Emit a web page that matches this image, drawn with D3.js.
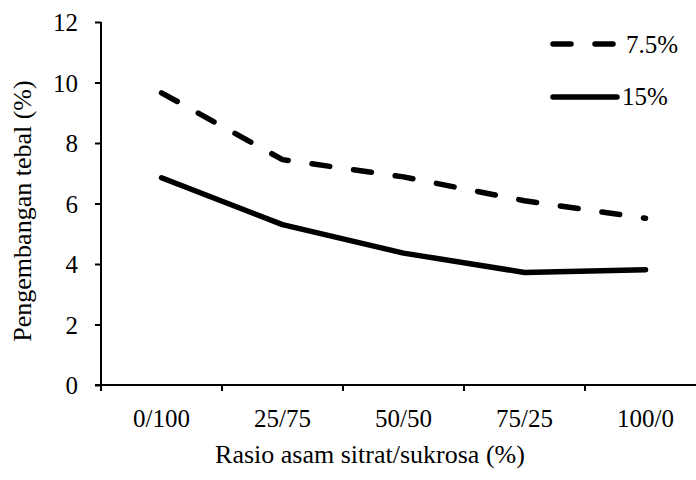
<!DOCTYPE html>
<html>
<head>
<meta charset="utf-8">
<script src="https://cdn.jsdelivr.net/npm/d3@7"></script>
<style>
  body { margin: 0; background: #fff; }
  svg text { font-family: "Liberation Serif", "Times New Roman", serif; fill: #000; }
</style>
</head>
<body>
<svg id="chart" width="696" height="480"></svg>
<script>
// data
var categories = ["0/100", "25/75", "50/50", "75/25", "100/0"];
var series75 = [9.66, 7.45, 6.88, 6.09, 5.51];
var series15 = [6.85, 5.30, 4.36, 3.72, 3.81];
var seriesNames = ["7.5%", "15%"];
var yTicks = [0, 2, 4, 6, 8, 10, 12];

var serif = '"Liberation Serif", "Times New Roman", serif';

var svg = d3.select("#chart");

var plotLeft = 101, plotRight = 706, plotTop = 22, plotBottom = 385;

var x = d3.scaleBand()
    .domain(categories)
    .range([plotLeft, plotRight])
    .padding(0);

var y = d3.scaleLinear()
    .domain([0, 12])
    .range([plotBottom, plotTop]);

// y axis
var yAxis = d3.axisLeft(y)
    .tickValues(yTicks)
    .tickSize(6)
    .tickFormat(d3.format("d"));

var gy = svg.append("g")
    .attr("transform", "translate(" + plotLeft + ",0)")
    .call(yAxis)
    .attr("font-family", serif)
    .attr("font-size", 25);
gy.select(".domain").attr("stroke", "#000").attr("stroke-width", 2)
    .attr("d", "M0," + (plotBottom + 1) + "V" + plotTop);
gy.selectAll(".tick line").attr("stroke", "#000").attr("stroke-width", 2);
gy.selectAll(".tick text")
    .attr("x", -23)
    .attr("dy", "0.34em")
    .style("font-family", serif)
    .style("font-size", "25px");

// x axis: labels at band centres, ticks at band edges
var gx = svg.append("g")
    .attr("transform", "translate(0," + plotBottom + ")");
gx.append("line")
    .attr("x1", plotLeft - 6).attr("x2", plotRight)
    .attr("stroke", "#000").attr("stroke-width", 2);
var edges = categories.map(function(c) { return x(c); })
    .concat([x(categories[categories.length - 1]) + x.bandwidth()]);
gx.selectAll(".tk")
    .data(edges)
  .enter().append("line")
    .attr("class", "tk")
    .attr("x1", function(d) { return d; })
    .attr("x2", function(d) { return d; })
    .attr("y1", 0).attr("y2", 6)
    .attr("stroke", "#000").attr("stroke-width", 2);
gx.selectAll(".lbl")
    .data(categories)
  .enter().append("text")
    .attr("class", "lbl")
    .attr("x", function(d) { return x(d) + x.bandwidth() / 2; })
    .attr("y", 42)
    .attr("text-anchor", "middle")
    .style("font-family", serif)
    .style("font-size", "25px")
    .text(function(d) { return d; });

// axis titles
svg.append("text")
    .attr("x", 370)
    .attr("y", 463)
    .attr("text-anchor", "middle")
    .style("font-family", serif)
    .style("font-size", "26px")
    .text("Rasio asam sitrat/sukrosa (%)");

svg.append("text")
    .attr("transform", "translate(31,211) rotate(-90)")
    .attr("text-anchor", "middle")
    .style("font-family", serif)
    .style("font-size", "26px")
    .text("Pengembangan tebal (%)");

// lines
var line = d3.line()
    .x(function(d, i) { return x(categories[i]) + x.bandwidth() / 2; })
    .y(function(d) { return y(d); });

var dash = "18,24";

svg.append("path")
    .datum(series75)
    .attr("d", line)
    .attr("fill", "none")
    .attr("stroke", "#000")
    .attr("stroke-width", 5.5)
    .attr("stroke-dasharray", dash)
    .attr("stroke-linecap", "round")
    .attr("stroke-linejoin", "round");

svg.append("path")
    .datum(series15)
    .attr("d", line)
    .attr("fill", "none")
    .attr("stroke", "#000")
    .attr("stroke-width", 5.5)
    .attr("stroke-linecap", "round")
    .attr("stroke-linejoin", "round");

// legend
var legend = svg.append("g");
legend.append("line")
    .attr("x1", 553).attr("x2", 618).attr("y1", 44).attr("y2", 44)
    .attr("stroke", "#000").attr("stroke-width", 5.5)
    .attr("stroke-dasharray", dash).attr("stroke-linecap", "round");
legend.append("text")
    .attr("x", 626).attr("y", 53)
    .style("font-family", serif)
    .style("font-size", "25px")
    .text(seriesNames[0]);
legend.append("line")
    .attr("x1", 553).attr("x2", 617).attr("y1", 97).attr("y2", 97)
    .attr("stroke", "#000").attr("stroke-width", 5.5)
    .attr("stroke-linecap", "round");
legend.append("text")
    .attr("x", 622).attr("y", 105)
    .style("font-family", serif)
    .style("font-size", "25px")
    .text(seriesNames[1]);
</script>
</body>
</html>
